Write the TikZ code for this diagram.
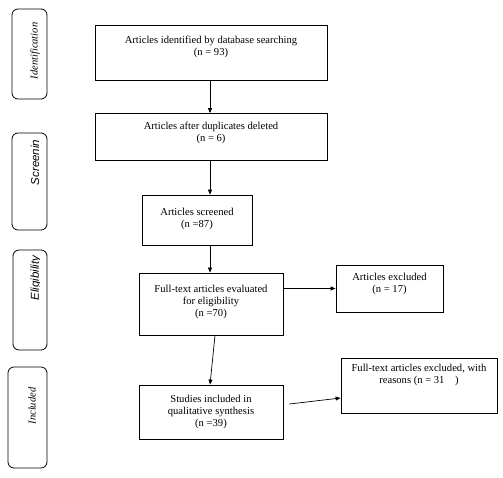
\documentclass[tikz,border=0pt]{standalone}
\usepackage{fontspec}
\setmainfont{Liberation Serif}
\newfontfamily\sansit{Liberation Sans}
\usetikzlibrary{arrows.meta,calc}
\begin{document}
\begin{tikzpicture}[x=1pt,y=-1pt,
  box/.style={draw,line width=0.8pt,rectangle,inner sep=0pt},
  side/.style={draw,line width=0.8pt,rectangle,rounded corners=6pt,inner sep=0pt},
  txt/.style={align=center,font=\fontsize{10.6}{12.2}\selectfont,inner sep=0pt,anchor=north},
  stxt/.style={rotate=90,font=\fontsize{10.5}{12}\selectfont\itshape,inner sep=0pt},
  arr/.style={line width=0.7pt,-{Triangle[length=5pt,width=4pt]}}]
\useasboundingbox (0,0) rectangle (503,477);
% side boxes
\node[side,minimum width=35pt,minimum height=90pt] (s1) at (29.5,54) {};
\node[side,minimum width=35pt,minimum height=97pt] (s2) at (29.5,181.5) {};
\node[side,minimum width=34pt,minimum height=100pt] (s3) at (30,300) {};
\node[side,minimum width=39pt,minimum height=101pt] (s4) at (27.5,417.5) {};
\node[stxt] (l1) at (35,51) {Identification};
\node[stxt,font=\fontsize{11.5}{12}\selectfont\sansit\itshape] (l2) at (35,162.5) {Screenin};
\begin{scope}
\clip (0,240) rectangle (39.5,360);
\node[stxt,font=\fontsize{11.5}{12}\selectfont\sansit\itshape] (l3) at (36,278) {Eligibility};
\end{scope}
\node[stxt] (l4) at (32,406) {Included};
% main boxes
\node[box,minimum width=232pt,minimum height=55pt] (b1) at (211,52.5) {};
\node[txt] (t1) at (211,35.5) {Articles identified by database searching\\(n = 93)};
\node[box,minimum width=232pt,minimum height=47pt] (b2) at (211,137) {};
\node[txt] (t2) at (211,121.5) {Articles after duplicates deleted\\(n = 6)};
\node[box,minimum width=110pt,minimum height=50pt] (b3) at (197,220) {};
\node[txt] (t3) at (197,207.5) {Articles screened\\(n =87)};
\node[box,minimum width=144pt,minimum height=62pt] (b4) at (211,304) {};
\node[txt] (t4) at (211,284.5) {Full-text articles evaluated\\for eligibility\\(n =70)};
\node[box,minimum width=144pt,minimum height=54pt] (b5) at (211,412) {};
\node[txt] (t5) at (211,394.5) {Studies included in\\qualitative synthesis\\(n =39)};
\node[box,minimum width=107pt,minimum height=47pt] (b6) at (389.5,288.5) {};
\node[txt] (t6) at (389.5,272.5) {Articles excluded\\(n = 17)};
\node[box,minimum width=156pt,minimum height=55pt] (b7) at (419,385.5) {};
\node[txt] (t7) at (419,363.5) {Full-text articles excluded, with\\reasons (n = 31\quad)};
% arrows
\draw[arr] ($(b1.south)+(-1,0)$) -- ($(b2.north)+(-1,0)$);
\draw[arr] ($(b2.south)+(-1,0)$) -- ($(b3.north)+(13,0)$);
\draw[arr] ($(b3.south)+(13,0)$) -- ($(b4.north)+(-1,0)$);
\draw[arr] ($(b4.south)+(4,0)$) -- ($(b5.north)+(-1,0)$);
\draw[arr] (b6.west -| b4.east) -- (b6.west);
\draw[arr] ($(b5.east)+(6,-8)$) -- ($(b7.west)+(0,12.5)$);
\end{tikzpicture}
\end{document}
